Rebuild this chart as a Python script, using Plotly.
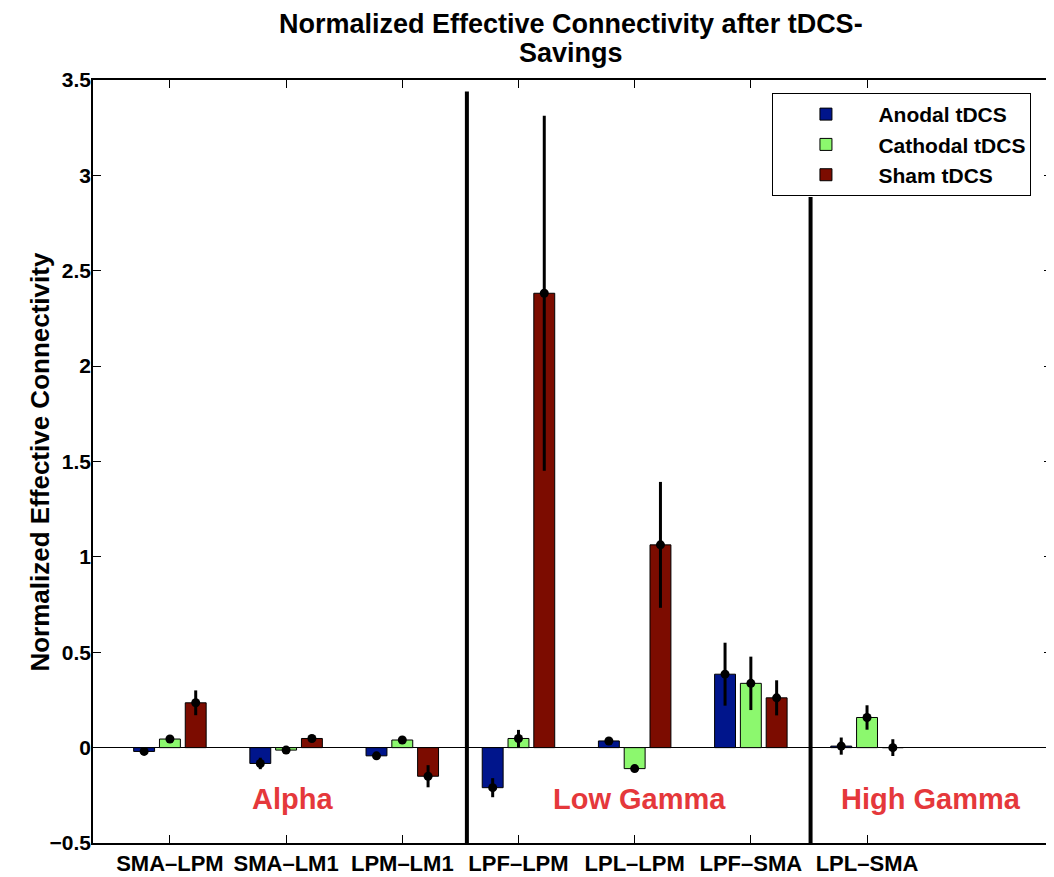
import numpy as np
import plotly.graph_objects as go

categories = ["SMA–LPM", "SMA–LM1", "LPM–LM1", "LPF–LPM", "LPL–LPM", "LPF–SMA", "LPL–SMA"]
series_names = ["Anodal tDCS", "Cathodal tDCS", "Sham tDCS"]
anodal = [-0.02, -0.083, -0.043, -0.21, 0.035, 0.385, 0.008]
anodal_err = [0.01, 0.03, 0.01, 0.05, 0.01, 0.165, 0.045]
cathodal = [0.045, -0.013, 0.04, 0.048, -0.11, 0.337, 0.158]
cathodal_err = [0.01, 0.01, 0.01, 0.045, 0.01, 0.14, 0.064]
sham = [0.235, 0.048, -0.15, 2.382, 1.063, 0.261, 0.0]
sham_err = [0.065, 0.01, 0.058, 0.93, 0.33, 0.092, 0.044]
y_ticks = [-0.5, 0, 0.5, 1, 1.5, 2, 2.5, 3, 3.5]
y_tick_labels = ["−0.5", "0", "0.5", "1", "1.5", "2", "2.5", "3", "3.5"]
band_labels = ["Alpha", "Low Gamma", "High Gamma"]
band_centers = [1.055, 4.04, 6.554]

colors = ["#00158c", "#8cf86e", "#7c0c00"]
FONT = "Liberation Sans, Arial, Helvetica, sans-serif"

x = np.arange(len(categories))
slot = 0.222
bar_w = 0.18
values = [anodal, cathodal, sham]
errors = [anodal_err, cathodal_err, sham_err]

fig = go.Figure()
for k, (name, vals, col) in enumerate(zip(series_names, values, colors)):
    fig.add_trace(go.Bar(
        x=x + (k - 1) * slot, y=vals, width=bar_w, name="<b>%s</b>" % name,
        marker=dict(color=col, line=dict(color="black", width=1)),
    ))
for k, (vals, errs) in enumerate(zip(values, errors)):
    fig.add_trace(go.Scatter(
        x=x + (k - 1) * slot, y=vals, mode="markers", showlegend=False,
        marker=dict(color="black", size=9),
        error_y=dict(type="data", array=errs, visible=True, color="black",
                     thickness=3, width=0),
        hoverinfo="skip",
    ))

# band separators
fig.add_shape(type="line", xref="x", yref="y", x0=2.556, x1=2.556, y0=-0.5, y1=3.44,
              line=dict(color="black", width=4))
fig.add_shape(type="line", xref="x", yref="y", x0=5.514, x1=5.514, y0=-0.5, y1=2.887,
              line=dict(color="black", width=4))

for lab, cx in zip(band_labels, band_centers):
    fig.add_annotation(x=cx, y=-0.267, xref="x", yref="y", text="<b>%s</b>" % lab,
                       showarrow=False, font=dict(family=FONT, size=29, color="#e5383b"))

fig.add_annotation(x=0.498, y=1.0734, xref="paper", yref="paper", yanchor="middle",
                   text="<b>Normalized Effective Connectivity after tDCS-</b>",
                   showarrow=False, font=dict(family=FONT, size=27, color="black"))
fig.add_annotation(x=0.498, y=1.0354, xref="paper", yref="paper", yanchor="middle",
                   text="<b>Savings</b>",
                   showarrow=False, font=dict(family=FONT, size=27, color="black"))
fig.add_annotation(x=-0.0562, y=0.5, xref="paper", yref="paper", textangle=-90,
                   xanchor="center", yanchor="middle",
                   text="<b>Normalized Effective Connectivity</b>",
                   showarrow=False, font=dict(family=FONT, size=26, color="black"))

fig.update_layout(
    width=1046, height=869,
    margin=dict(l=85, r=0, t=72, b=34),
    plot_bgcolor="white", paper_bgcolor="white",
    barmode="overlay",
    font=dict(family=FONT, size=21, color="black"),
    legend=dict(x=0.7085, y=0.983, xanchor="left", yanchor="top",
                bordercolor="black", borderwidth=1, bgcolor="white",
                font=dict(family=FONT, size=21, color="black"),
                tracegroupgap=0, itemwidth=95),
    xaxis=dict(range=[-0.662, 7.592], tickmode="array", tickvals=list(x),
               ticktext=["<b>%s</b>" % c for c in categories],
               ticks="inside", ticklen=8, tickcolor="black", tickwidth=1,
               showline=True, linecolor="black", linewidth=1.5, mirror="ticks",
               showgrid=False, zeroline=False,
               tickfont=dict(family=FONT, size=22, color="black")),
    yaxis=dict(range=[-0.5, 3.5], tickmode="array", tickvals=y_ticks,
               ticktext=["<b>%s</b>" % t for t in y_tick_labels],
               ticks="inside", ticklen=8, tickcolor="black", tickwidth=1,
               ticklabelstandoff=-4,
               showline=True, linecolor="black", linewidth=1.5, mirror="ticks",
               showgrid=False, zeroline=True, zerolinecolor="black", zerolinewidth=1,
               tickfont=dict(family=FONT, size=21, color="black")),
)

fig.write_html("out.html")
